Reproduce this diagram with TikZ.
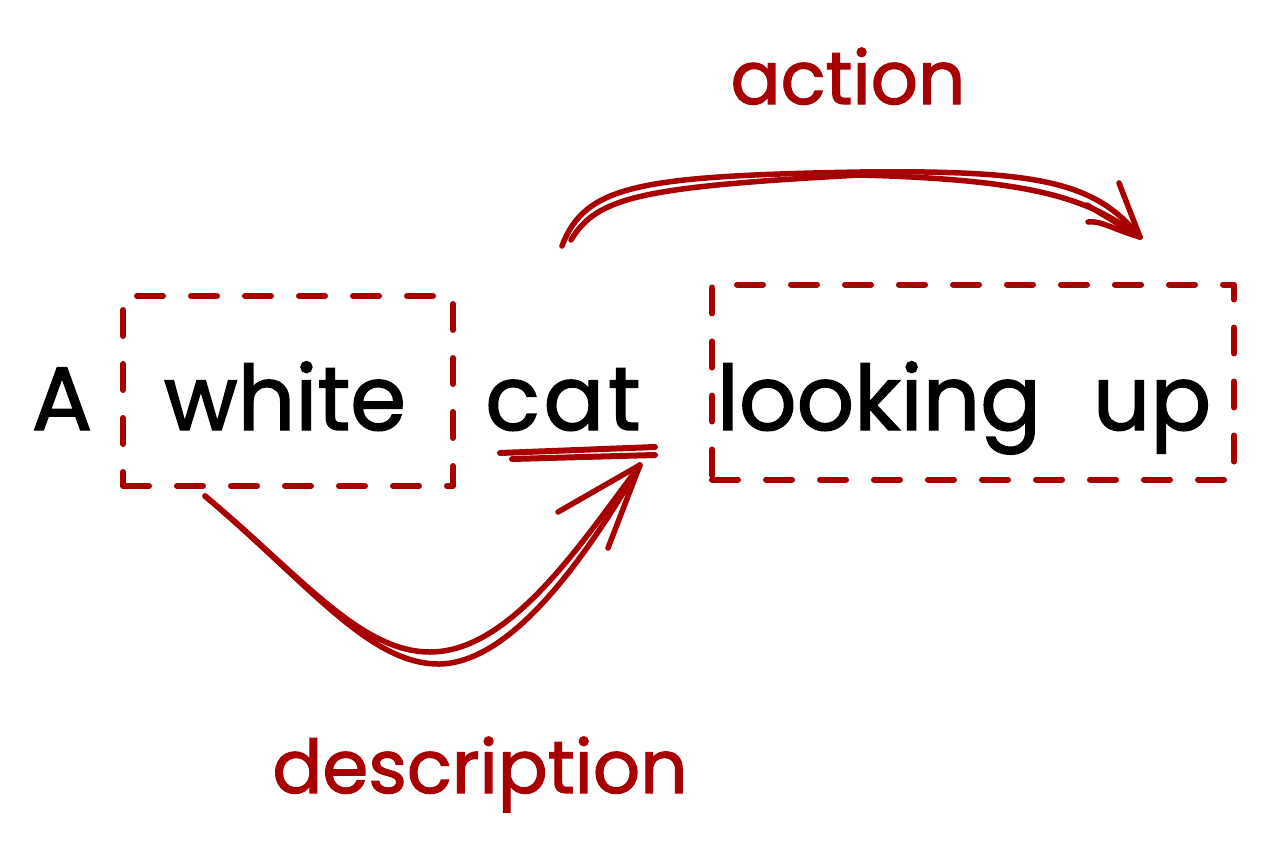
\documentclass[tikz,border=0pt]{standalone}
\usepackage{fontspec}
\setmainfont{Poppins}[FakeBold=1.6]
\definecolor{ink}{HTML}{A80000}
\begin{document}
\begin{tikzpicture}[x=1pt,y=-1pt,
  redline/.style={draw=ink, line width=6pt, line cap=round, line join=round},
  thin/.style={redline, line width=5.5pt},
  dashbox/.style={redline, dash pattern=on 26pt off 28pt, inner sep=0pt},
  word/.style={font=\fontsize{90}{90}\selectfont, inner sep=0pt, anchor=base, text=black},
  label/.style={font=\fontsize{74}{74}\selectfont, inner sep=0pt, anchor=base, text=ink}]
\useasboundingbox (0,0) rectangle (1262,854);
% words
\node[word] (A) at (62,430) {A};
\node[word] (white) at (285,430) {white};
\node[word] (cat) at (563,430) {\addfontfeature{LetterSpace=4}cat};
\node[word] (looking) at (879,430) {looking};
\node[word] (up) at (1152,430) {up};
% labels
\node[label] (action) at (848,104) {action};
\node[label] (description) at (480,793) {description};
% boxes
\node[dashbox, minimum width=330pt, minimum height=190pt] (box1) at (288,391) {};
\node[dashbox, minimum width=522pt, minimum height=195pt] (box2) at (973,382) {};
% underline of cat
\coordinate (u1) at (500,453);
\coordinate (u2) at (655,447);
\draw[redline] (u1) -- (u2);
\draw[redline] ([xshift=12pt,yshift=-6pt]u1) -- ([yshift=-8pt]u2);
% top arrow
\coordinate (ts) at (562,246);
\coordinate (te) at (1140,237);
\draw[thin] (ts) .. controls (585,185) and (640,176) .. (860,172) .. controls (1040,170) and (1095,182) .. (te);
\draw[thin] ([xshift=9pt,yshift=6pt]ts) .. controls (597,197) and (640,187) .. (860,175) .. controls (1040,180) and (1090,200) .. (te);
\draw[thin] (1087,205) -- (te) -- (1119,183);
\draw[thin] (1088,222) .. controls (1100,220) and (1115,230) .. (te);
% bottom arrow
\coordinate (bs) at (205,496);
\coordinate (be) at (640,465);
\draw[thin] (bs) .. controls (300,575) and (360,652) .. (430,652) .. controls (510,652) and (580,545) .. (be);
\draw[thin] (bs) .. controls (310,585) and (370,665) .. (440,664) .. controls (515,662) and (590,550) .. (be);
\draw[thin] (558,512) -- (be) -- (608,548);
\end{tikzpicture}
\end{document}
